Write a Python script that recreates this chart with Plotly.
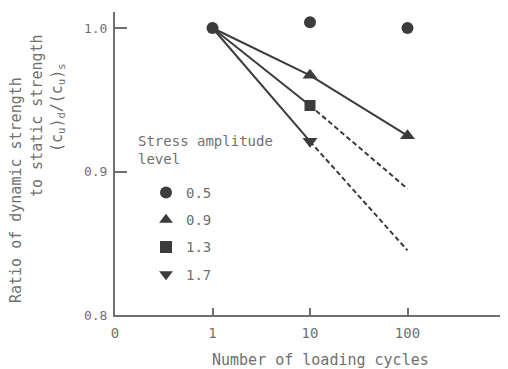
import math
import plotly.graph_objects as go

# ---- data ----
cycle_ticks = [0, 1, 10, 100]
cycle_tick_labels = ["0", "1", "10", "100"]
ratio_ticks = [0.8, 0.9, 1.0]
ratio_tick_labels = ["0.8", "0.9", "1.0"]

cycles = [1, 10, 100]
amp_05 = [1.0, 1.004, 1.0]          # circles, no line
amp_09 = [1.0, 0.967, 0.925]        # solid line
amp_13_cycles = [1, 10]
amp_13 = [1.0, 0.946]               # solid, measured
amp_13_ext_cycles = [10, 100]
amp_13_ext = [0.946, 0.888]         # dashed extrapolation
amp_17_cycles = [1, 10]
amp_17 = [1.0, 0.921]
amp_17_ext_cycles = [10, 100]
amp_17_ext = [0.921, 0.845]

legend_title = "Stress amplitude<br>level"
legend_levels = ["0.5", "0.9", "1.3", "1.7"]


def pos(c):
    """Map loading cycles onto the chart's log-like axis (0 sits one decade below 1)."""
    return 0 if c == 0 else math.log10(c) + 1


def px(lst):
    return [pos(c) for c in lst]


INK = "#3c3c3c"
TXT = "#707070"
AX = "#707070"
FONT = "DejaVu Sans Mono"

fig = go.Figure()

# lines
fig.add_trace(go.Scatter(x=px(cycles), y=amp_09, mode="lines",
                         line=dict(color=INK, width=2), showlegend=False, hoverinfo="skip"))
fig.add_trace(go.Scatter(x=px(amp_13_cycles), y=amp_13, mode="lines",
                         line=dict(color=INK, width=2), showlegend=False, hoverinfo="skip"))
fig.add_trace(go.Scatter(x=px(amp_13_ext_cycles), y=amp_13_ext, mode="lines",
                         line=dict(color=INK, width=2, dash="5px,3px"), showlegend=False, hoverinfo="skip"))
fig.add_trace(go.Scatter(x=px(amp_17_cycles), y=amp_17, mode="lines",
                         line=dict(color=INK, width=2), showlegend=False, hoverinfo="skip"))
fig.add_trace(go.Scatter(x=px(amp_17_ext_cycles), y=amp_17_ext, mode="lines",
                         line=dict(color=INK, width=2, dash="5px,3px"), showlegend=False, hoverinfo="skip"))

# markers (the common point at 1 cycle shows only the circle)
fig.add_trace(go.Scatter(x=px(cycles), y=amp_05, mode="markers", name=legend_levels[0],
                         legendgroup="a", marker=dict(symbol="circle", size=12, color=INK)))
fig.add_trace(go.Scatter(x=px(cycles[1:]), y=amp_09[1:], mode="markers", name=legend_levels[1],
                         legendgroup="b", marker=dict(symbol="triangle-up", size=13, color=INK)))
fig.add_trace(go.Scatter(x=px(amp_13_cycles[1:]), y=amp_13[1:], mode="markers", name=legend_levels[2],
                         legendgroup="c", marker=dict(symbol="square", size=11, color=INK)))
fig.add_trace(go.Scatter(x=px(amp_17_cycles[1:]), y=amp_17[1:], mode="markers", name=legend_levels[3],
                         legendgroup="d", marker=dict(symbol="triangle-down", size=13, color=INK)))

# page is rendered with an 8px body margin -> work in page pixels and shift
OFF = 8
PAGE_W, PAGE_H = 508, 369
PLOT_L, PLOT_T, PLOT_B = 115, 12, 315          # page pixels
W, H = PAGE_W - OFF, PAGE_H - OFF
L, T, B, R = PLOT_L - OFF, PLOT_T - OFF, H - (PLOT_B - OFF), 0
pw, ph = W - L - R, H - T - B


def xp(p):
    return (p - OFF - L) / pw


def yp(p):
    return (H - B - (p - OFF)) / ph


x_span = pw / 97.5
y_top = 0.8 + 0.1 * ph / 143.5

annos = [
    dict(text="Number of loading cycles", x=xp(320), y=yp(360), textangle=0),
    dict(text="Ratio of dynamic strength", x=xp(16), y=yp(190), textangle=-90),
    dict(text="to static strength", x=xp(37), y=yp(116), textangle=-90),
    dict(text="(c<sub>u</sub>)<sub>d</sub>/(c<sub>u</sub>)<sub>s</sub>", x=xp(58), y=yp(108), textangle=-90),
]
annotations = [dict(a, xref="paper", yref="paper", xanchor="center", yanchor="middle",
                     showarrow=False, font=dict(size=15, family=FONT, color=TXT)) for a in annos]
annotations.append(
    dict(text=legend_title, x=xp(136), y=yp(131), xref="paper", yref="paper", align="left",
         xanchor="left", yanchor="top", showarrow=False, font=dict(size=14, family=FONT, color=TXT)))

fig.update_layout(
    width=W, height=H,
    margin=dict(l=L, r=R, t=T, b=B, autoexpand=False),
    paper_bgcolor="white", plot_bgcolor="white",
    font=dict(family=FONT, color=TXT, size=14),
    legend=dict(
        x=xp(146), y=yp(177), xanchor="left", yanchor="top",
        bgcolor="rgba(0,0,0,0)", borderwidth=0,
        font=dict(family=FONT, size=14, color=TXT),
        tracegroupgap=6, itemsizing="constant",
    ),
    xaxis=dict(
        range=[0, x_span], showgrid=False, zeroline=False,
        showline=True, linecolor=AX, linewidth=2,
        tickvals=px(cycle_ticks), ticktext=cycle_tick_labels,
        ticks="inside", ticklen=7, tickwidth=1.5, tickcolor=AX,
        ticklabelstandoff=4,
        tickfont=dict(family=FONT, size=14, color=TXT),
    ),
    yaxis=dict(
        range=[0.8, y_top], showgrid=False, zeroline=False,
        showline=True, linecolor=AX, linewidth=2,
        tickvals=ratio_ticks, ticktext=ratio_tick_labels,
        ticks="inside", ticklen=12, tickwidth=1.5, tickcolor=AX,
        ticklabelstandoff=3,
        tickfont=dict(family=FONT, size=13, color=TXT),
    ),
    annotations=annotations,
)

fig.write_html("out.html")
